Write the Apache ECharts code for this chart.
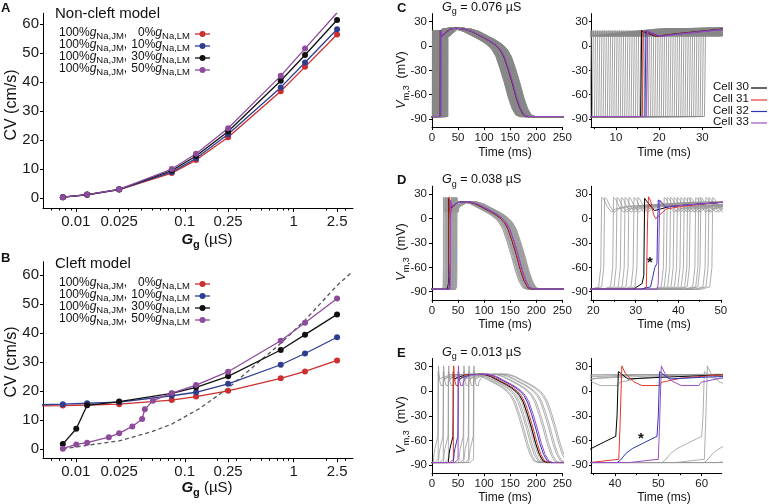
<!DOCTYPE html>
<html><head><meta charset="utf-8">
<script src="https://cdn.jsdelivr.net/npm/echarts@6/dist/echarts.min.js"></script>
<style>html,body{margin:0;padding:0;background:#fff}#c{width:769px;height:504px}</style>
</head><body><div id="c"></div>
<script>
// ================= DATA =================
// Panels A/B : conduction velocity vs gap-junction conductance
const ggTicks = [0.01, 0.025, 0.1, 0.25, 1, 2.5];
const ggTickLabels = ['0.01', '0.025', '0.1', '0.25', '1', '2.5'];
const ggMajorTicks = [0.01, 0.025, 0.1, 0.25, 1, 2.5];
const ggMinorTicks = [0.006,0.007,0.008,0.009,0.02,0.03,0.04,0.05,0.06,0.07,0.08,0.09,0.2,0.3,0.4,0.5,0.6,0.7,0.8,0.9,2,3];
const cvTicks = [0, 10, 20, 30, 40, 50, 60];
const lmPercent = ['0%', '10%', '30%', '50%'];

const aGg   = [0.0076, 0.0127, 0.025, 0.076, 0.127, 0.25, 0.76, 1.27, 2.5];
const aCV0  = [0.3, 1.1, 2.9, 8.6, 13.1, 21.0, 36.9, 45.3, 56.5];
const aCV10 = [0.3, 1.1, 2.9, 9.0, 13.7, 22.0, 38.2, 46.8, 58.3];
const aCV30 = [0.3, 1.2, 3.0, 9.5, 14.5, 23.0, 40.5, 49.4, 61.5];
const aCV50 = [0.3, 1.2, 3.0, 10.0, 15.3, 24.1, 42.2, 51.6, 64.0];

const bGg0   = [0.004, 0.0076, 0.0127, 0.025, 0.076, 0.127, 0.25, 0.76, 1.27, 2.5];
const bCV0   = [14.9, 15.0, 15.2, 15.5, 16.9, 18.1, 20.1, 24.4, 26.8, 30.6];
const bGg10  = [0.004, 0.0076, 0.0127, 0.025, 0.076, 0.127, 0.25, 0.76, 1.27, 2.5];
const bCV10  = [15.2, 15.5, 15.8, 16.2, 18.4, 19.6, 22.5, 29.1, 33.0, 38.6];
const bGg30  = [0.0076, 0.0101, 0.0127, 0.025, 0.076, 0.127, 0.25, 0.76, 1.27, 2.5];
const bCV30  = [1.7, 7.0, 15.1, 16.4, 19.2, 21.3, 25.1, 34.2, 39.5, 46.5];
const bGg50  = [0.0076, 0.0101, 0.0127, 0.0201, 0.025, 0.033, 0.0406, 0.043, 0.051, 0.076, 0.127, 0.25, 0.76, 1.27, 2.5];
const bCV50  = [0.1, 1.6, 2.2, 4.1, 5.4, 7.8, 10.4, 13.7, 16.7, 19.3, 22.1, 26.7, 37.4, 43.6, 52.0];
const bGgRef = [0.0076, 0.0127, 0.025, 0.05, 0.076, 0.137, 0.25, 0.76, 1.27, 2.5, 3.4];
const bCVRef = [0.0, 1.3, 2.8, 6.0, 8.6, 14.0, 21.0, 36.5, 44.5, 56.5, 61.0];

// Panels C-E : membrane potential traces (ms, mV)
const vTicks = [-90, -60, -30, 0, 30];
const tTicksFull = [0, 50, 100, 150, 200, 250];
const cellNames = ['Cell 30', 'Cell 31', 'Cell 32', 'Cell 33'];
const ggTitles = ['0.076', '0.038', '0.013'];

// shared plateau / repolarisation shape (time relative to activation); -64 mV reached at 146 ms
const lateRel = [45, 60, 75, 90, 100, 108, 115, 122, 130, 138, 146, 153, 160, 168, 420];
const lateV   = [21, 18, 13, 8, 4, 0, -5, -13, -28, -45, -64, -77, -85, -87, -87];
const lateRefRel = 146;

// C : Gg = 0.076 uS
const cRel = [-420, 0, 0.25, 1, 3.5, 8, 19, 30];
const cV   = [-87, -87, 19, 17, 12, 15, 21, 22];
const cGrayAct = [0.5,1.0,1.5,2.0,2.5,3.0,3.5,4.0,4.5,5.0,5.5,6.0,6.5,7.0,7.5,8.0,8.5,9.0,9.5,10.0,10.5,11.0,11.5,12.0,12.5,13.0,13.5,14.0,14.5,15.0,15.5,16.0,16.5,17.0,17.5,18.0,18.5,19.0,19.5,20.0,20.5,21.0,21.5,22.0,22.5,23.0,23.5,24.0,24.5,25.0,25.5,26.0,26.5,27.0,27.5,28.0,28.5,29.0,29.5,30.0,30.5];
const cCellAct = [15.7, 16.1, 16.7, 17.1];
const cLateShift = 0;

// D : Gg = 0.038 uS
const dGrayRel = [-420, -2.5, -0.5, 0, 0.2, 0.7, 1.5, 2.5, 3.5, 6, 20];
const dGrayV   = [-87, -87, -84, -60, 26, 24, 15, 8, 12, 15, 20];
const dGrayAct = [21.8,22.5,24.6,25.4,26.4,27.3,28.2,29.4,30.3,36.5,37.2,38.0,38.8,39.6,40.4,41.2,42.0,42.6,43.9,44.6,45.1,46.3,47.0,47.9];
const dCellAct = [31.9, 32.7, 35.1, 35.5];
const dCell30Rel = [-420, -2.5, -0.4, 0, 0.2, 0.6, 2.5, 4, 6, 18];
const dCell30V   = [-87, -87, -80, -70, 25, 22, 10, 12, 15, 20];
const dCell31Rel = [-420, -1, -0.2, 0.1, 0.3, 0.8, 1.5, 2, 3, 4.5, 8, 17];
const dCell31V   = [-87, -87, -84, 0, 27, 22, 5, 0, 5, 12, 15, 20];
const dCell32Rel = [-420, -4, -1.6, -1.1, -0.6, -0.1, 0, 0.2, 0.9, 2, 5, 15];
const dCell32V   = [-87, -87, -84, -72, -60, -55, -20, 23, 20, 14, 16, 20];
const dCell33Rel = [-420, -0.5, -0.2, 0.15, 1, 1.5, 4.5, 14.5];
const dCell33V   = [-87, -87, -80, 23, 18, 15, 16, 20];
const dLateShift = -8;

// E : Gg = 0.013 uS  (activation times and times at which -64 mV is reached on repolarisation)
const eLeadRel  = [-420, -9.5, -8.7, -7.5, -6, -3, -0.3, 0, 0.3, 0.8, 2.5, 10, 24];
const eLeadV    = [-87, -87, -84, -76, -70, -62, -55, -30, 24, 22, 15, 17, 20];
const eTrailRel = [-420, -7, -0.3, 0, 0.4, 1.2, 3, 5, 9, 9.6, 10.5, 14, 23];
const eTrailV   = [-87, -87, -83, -40, 31, 22, 12, 7, 7, 11, 12, 16, 20];
const eGrayLeadAct    = [11.5, 21.3, 31.0, 60.3, 70.0, 79.5];
const eGrayLeadRepol  = [181, 189, 196, 221, 232, 243];
const eGrayTrailAct   = [12.1, 21.9, 31.6, 60.9, 70.6, 80.1];
const eGrayTrailRepol = [184, 192, 199, 224, 235, 246];
const eCellAct   = [40.5, 41.2, 50.0, 50.3];
const eCellRepol = [199, 202, 207, 210];

// ================= CHART =================
const FONT = '"Liberation Sans", Arial, Helvetica, sans-serif';
const L10 = Math.log10;
const COL = {red:'#cc2f2f', blue:'#2f3d91', black:'#111111', purple:'#8e4b9c'};
const TRC = {c30:'#000000', c31:'#e2382e', c32:'#2d36b4', c33:'#9b4fc2'};
const grid = [], xAxis = [], yAxis = [], series = [], graphic = [];

function addGrid(l, t, w, h) {
  grid.push({left:l, top:t, width:w, height:h, containLabel:false, outerBoundsMode:'none', show:false});
  return grid.length - 1;
}
function mainAxis(gi, min, max, o) {
  return {
    type:'value', gridIndex:gi, min:min, max:max, position:o.pos,
    axisLine:{show:true, onZero:false, lineStyle:{color:'#000', width:1}},
    axisTick:{show:true, length:o.tickLen, customValues:o.ticks, lineStyle:{color:'#000', width:1}},
    axisLabel:{show:true, customValues:o.labels, formatter:o.fmt, fontSize:o.fs, fontFamily:FONT, color:'#1a1a1a', margin:o.margin},
    splitLine:{show:false}
  };
}
function minorAxis(gi, min, max, vals, len) {
  return {
    type:'value', gridIndex:gi, min:min, max:max, position:'bottom', offset:0,
    axisLine:{show:false, onZero:false},
    axisTick:{show:true, length:len, customValues:vals, lineStyle:{color:'#000', width:1}},
    axisLabel:{show:false}, splitLine:{show:false}
  };
}
function ggFmt(v) {
  for (let i = 0; i < ggTicks.length; i++) if (Math.abs(L10(ggTicks[i]) - v) < 1e-9) return ggTickLabels[i];
  return '';
}

// ---------- Panels A & B ----------
const gMin = L10(0.005), gMax = L10(3.5);
function cvPanel(top, h, yMin, yMax, sets) {
  const gi = addGrid(43, top, 310, h);
  const xi = xAxis.length;
  xAxis.push(mainAxis(gi, gMin, gMax, {pos:'bottom', tickLen:4, ticks:ggMajorTicks.map(L10), labels:ggTicks.map(L10), fmt:ggFmt, fs:15, margin:6}));
  xAxis.push(minorAxis(gi, gMin, gMax, ggMinorTicks.map(L10), 2.5));
  const yi = yAxis.length;
  yAxis.push(mainAxis(gi, yMin, yMax, {pos:'left', tickLen:3, ticks:cvTicks, labels:cvTicks, fmt:null, fs:15, margin:4}));
  sets.forEach(s => {
    const data = s.x.map((g, i) => {
      const item = {value:[L10(g), s.y[i]]};
      if (g < 0.005) item.symbolSize = 0;
      return item;
    });
    series.push({
      type:'line', xAxisIndex:xi, yAxisIndex:yi, data:data, clip:true, animation:false, silent:true,
      symbol:s.dash ? 'none' : 'circle', symbolSize:6, showSymbol:!s.dash,
      itemStyle:{color:s.color}, lineStyle:{color:s.color, width:1.3, type:s.dash ? [4, 3] : 'solid'}
    });
  });
}
cvPanel(13.3, 194.7, -3.45, 63.8, [
  {x:aGg, y:aCV0, color:COL.red},
  {x:aGg, y:aCV10, color:COL.blue},
  {x:aGg, y:aCV30, color:COL.black},
  {x:aGg, y:aCV50, color:COL.purple}
]);
cvPanel(261.7, 196.6, -3.21, 64.7, [
  {x:bGgRef, y:bCVRef, color:'#555555', dash:true},
  {x:bGg0, y:bCV0, color:COL.red},
  {x:bGg10, y:bCV10, color:COL.blue},
  {x:bGg30, y:bCV30, color:COL.black},
  {x:bGg50, y:bCV50, color:COL.purple}
]);

// ---------- Panels C, D, E ----------
function mkTrace(act, rel, v, shift) {
  const pts = [];
  for (let i = 0; i < rel.length; i++) pts.push([act + rel[i], v[i]]);
  for (let i = 0; i < lateRel.length; i++) pts.push([act + lateRel[i] + shift, lateV[i]]);
  return pts;
}
function mkTraceR(act, rel, v, repol) {
  return mkTrace(act, rel, v, repol - act - lateRefRel);
}
function tracePanel(top, h, rMin, rMax, rTicks, rMinor, traces) {
  const gL = addGrid(432, top, 130.3, h);
  const gR = addGrid(591, top, 130.7, h);
  const xL = xAxis.length;
  xAxis.push(mainAxis(gL, 0, 250, {pos:'bottom', tickLen:3, ticks:tTicksFull, labels:tTicksFull, fmt:null, fs:11.5, margin:5}));
  const xR = xAxis.length;
  xAxis.push(mainAxis(gR, rMin, rMax, {pos:'bottom', tickLen:3, ticks:rTicks, labels:rTicks, fmt:null, fs:11.5, margin:5}));
  xAxis.push(minorAxis(gR, rMin, rMax, rMinor, 2));
  const yL = yAxis.length;
  yAxis.push(mainAxis(gL, -100, 40, {pos:'left', tickLen:3, ticks:vTicks, labels:vTicks, fmt:null, fs:11.5, margin:5}));
  const yR = yAxis.length;
  yAxis.push(mainAxis(gR, -100, 40, {pos:'left', tickLen:2, ticks:vTicks, labels:vTicks, fmt:null, fs:11.5, margin:3}));
  traces.forEach(tr => {
    [[xL, yL], [xR, yR]].forEach(([xi, yi]) => {
      series.push({type:'line', xAxisIndex:xi, yAxisIndex:yi, data:tr.data, showSymbol:false, symbol:'none',
        silent:true, animation:false, clip:true, z:tr.z, lineStyle:{color:tr.color, width:tr.w}});
    });
  });
}
// C
const cTraces = cGrayAct.map(a => ({data:mkTrace(a, cRel, cV, cLateShift), color:'#888888', w:0.8, z:2}));
[TRC.c30, TRC.c31, TRC.c32, TRC.c33].forEach((c, i) => cTraces.push({data:mkTrace(cCellAct[i], cRel, cV, cLateShift), color:c, w:1, z:3}));
tracePanel(13.6, 113.5, 4.2, 34.5, [10, 20, 30], [5, 15, 25], cTraces);
// D
const dTraces = dGrayAct.map(a => ({data:mkTrace(a, dGrayRel, dGrayV, dLateShift), color:'#999999', w:0.8, z:2}));
dTraces.push({data:mkTrace(dCellAct[0], dCell30Rel, dCell30V, dLateShift), color:TRC.c30, w:1, z:3});
dTraces.push({data:mkTrace(dCellAct[1], dCell31Rel, dCell31V, dLateShift), color:TRC.c31, w:1, z:3});
dTraces.push({data:mkTrace(dCellAct[2], dCell32Rel, dCell32V, dLateShift), color:TRC.c32, w:1, z:3});
dTraces.push({data:mkTrace(dCellAct[3], dCell33Rel, dCell33V, dLateShift), color:TRC.c33, w:1, z:3});
tracePanel(186.2, 113.6, 19.5, 50.2, [20, 30, 40, 50], [25, 35, 45], dTraces);
// E
const eTraces = [];
eGrayLeadAct.forEach((a, i) => eTraces.push({data:mkTraceR(a, eLeadRel, eLeadV, eGrayLeadRepol[i]), color:'#999999', w:0.8, z:2}));
eGrayTrailAct.forEach((a, i) => eTraces.push({data:mkTraceR(a, eTrailRel, eTrailV, eGrayTrailRepol[i]), color:'#999999', w:0.8, z:2}));
eTraces.push({data:mkTraceR(eCellAct[0], eLeadRel, eLeadV, eCellRepol[0]), color:TRC.c30, w:1, z:3});
eTraces.push({data:mkTraceR(eCellAct[1], eTrailRel, eTrailV, eCellRepol[1]), color:TRC.c31, w:1, z:3});
eTraces.push({data:mkTraceR(eCellAct[2], eLeadRel, eLeadV, eCellRepol[2]), color:TRC.c32, w:1, z:3});
eTraces.push({data:mkTraceR(eCellAct[3], eTrailRel, eTrailV, eCellRepol[3]), color:TRC.c33, w:1, z:3});
tracePanel(358.5, 114.7, 34.5, 64.6, [40, 50, 60], [35, 45, 55], eTraces);

// ---------- Text / legends ----------
function rich(fs, sub) {
  return {
    n:{fontSize:fs, fontFamily:FONT, fill:'#111', lineHeight:fs + 5, verticalAlign:'middle'},
    i:{fontSize:fs, fontFamily:FONT, fontStyle:'italic', fill:'#111', lineHeight:fs + 5, verticalAlign:'middle'},
    b:{fontSize:fs, fontFamily:FONT, fontStyle:'italic', fontWeight:'bold', fill:'#111', lineHeight:fs + 5, verticalAlign:'middle'},
    s:{fontSize:sub, fontFamily:FONT, fill:'#111', lineHeight:sub, verticalAlign:'bottom'},
    bs:{fontSize:sub, fontFamily:FONT, fontWeight:'bold', fill:'#111', lineHeight:sub, verticalAlign:'bottom'}
  };
}
function txt(x, y, text, fs, sub, align, rot) {
  graphic.push({type:'text', x:x, y:y, rotation:rot || 0, silent:true, z:10,
    style:{text:text, rich:rich(fs, sub), align:align || 'left', verticalAlign:'middle', fontSize:fs, fontFamily:FONT, fill:'#111'}});
}
function plain(x, y, text, fs, weight, align) {
  graphic.push({type:'text', x:x, y:y, silent:true, z:10,
    style:{text:text, fontSize:fs, fontWeight:weight || 'normal', fontFamily:FONT, fill:'#111', align:align || 'left', verticalAlign:'middle'}});
}
// panel letters
plain(1, 8, 'A', 13, 'bold');
plain(1, 258, 'B', 13, 'bold');
plain(397, 8, 'C', 13, 'bold');
plain(397, 180, 'D', 13, 'bold');
plain(397, 353, 'E', 13, 'bold');
// A/B titles
plain(55, 13.5, 'Non-cleft model', 15);
plain(55, 264, 'Cleft model', 15);
// A/B legends
const legColors = [COL.red, COL.blue, COL.black, COL.purple];
function cvLegend(ys) {
  ys.forEach((y, k) => {
    txt(59, y, '{n|100%}{i|g}{s|Na,JM}{n|,}', 12, 9.5, 'left');
    txt(190, y, '{n|' + lmPercent[k] + '}{i|g}{s|Na,LM}', 12, 9.5, 'right');
    graphic.push({type:'line', silent:true, z:10, shape:{x1:195, y1:y + 1, x2:210, y2:y + 1}, style:{stroke:legColors[k], lineWidth:1.3}});
    graphic.push({type:'circle', silent:true, z:11, shape:{cx:202.5, cy:y + 1, r:3}, style:{fill:legColors[k]}});
  });
}
cvLegend([33, 45, 57, 69]);
cvLegend([283, 295, 307, 319]);
// A/B axis titles
txt(12, 105, '{n|CV (cm/s)}', 16, 11, 'center', Math.PI / 2);
txt(12, 362, '{n|CV (cm/s)}', 16, 11, 'center', Math.PI / 2);
txt(207, 240, '{b|G}{bs|g}{n| (µS)}', 15, 11, 'center');
txt(207, 488, '{b|G}{bs|g}{n| (µS)}', 15, 11, 'center');
// C/D/E titles and axis names
[[7.5, 80, 153], [180, 252, 325], [352.7, 425, 497.7]].forEach((r, k) => {
  txt(442, r[0], '{i|G}{s|g}{n| = ' + ggTitles[k] + ' µS}', 12.5, 9, 'left');
  txt(402, r[1], '{i|V}{s|m,3}{n|  (mV)}', 12.5, 9, 'center', Math.PI / 2);
  txt(505, r[2], '{n|Time (ms)}', 12, 9, 'center');
  txt(664, r[2], '{n|Time (ms)}', 12, 9, 'center');
});
// cell legend
const cellColors = [TRC.c30, TRC.c31, TRC.c32, TRC.c33];
[87, 99, 110.5, 122].forEach((y, k) => {
  plain(713, y, cellNames[k], 11.5);
  graphic.push({type:'line', silent:true, z:10, shape:{x1:751, y1:y + 1, x2:767, y2:y + 1}, style:{stroke:cellColors[k], lineWidth:1.2}});
});
// asterisks
plain(650, 263, '*', 15, 'bold', 'center');
plain(641, 439, '*', 15, 'bold', 'center');

const chart = echarts.init(document.getElementById('c'), null, {renderer:'canvas'});
chart.setOption({
  animation:false, backgroundColor:'#ffffff',
  grid:grid, xAxis:xAxis, yAxis:yAxis, series:series, graphic:graphic
});
</script>
</body></html>
